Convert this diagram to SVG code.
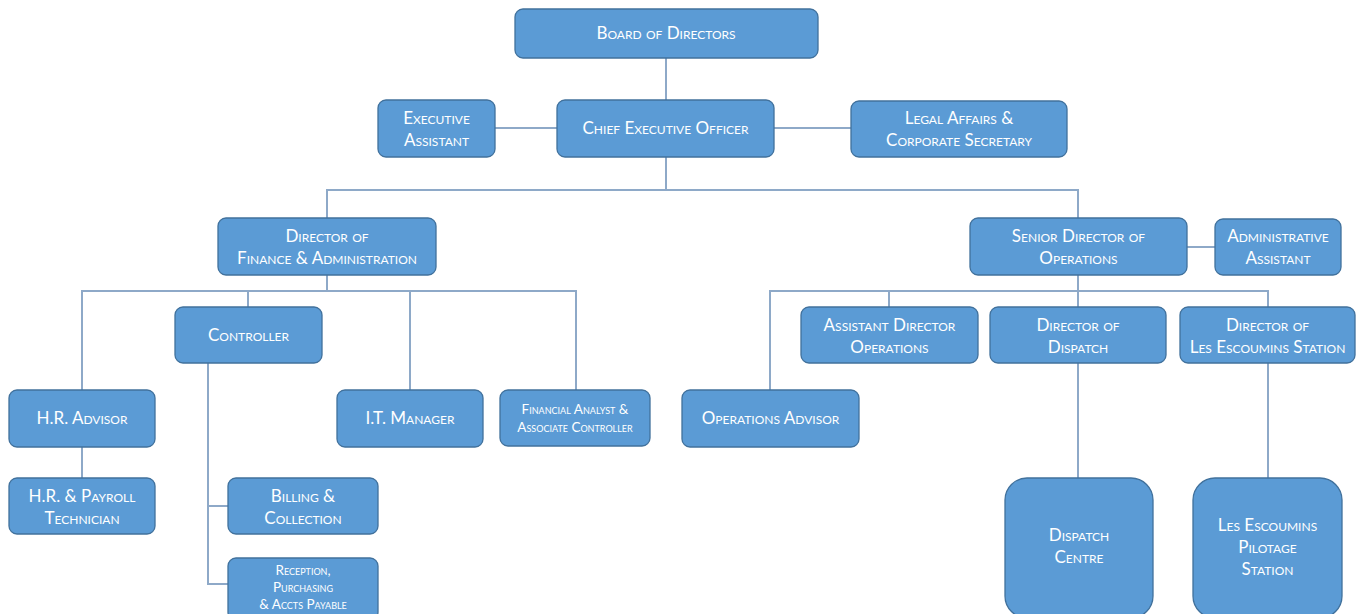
<svg xmlns="http://www.w3.org/2000/svg" width="1359" height="614" viewBox="0 0 1359 614">
<style>
.box{fill:#5B9BD5;stroke:#41719C;stroke-width:1.3}
.t{font-family:Lato,"Open Sans","Liberation Sans",sans-serif;font-size:17px;fill:#ffffff;text-anchor:middle;font-variant:small-caps}
.s{font-size:13.5px}
.c{fill:none;stroke:#8EA9C8;stroke-width:2}
</style>
<rect width="1359" height="614" fill="#ffffff"/>
<g id="connectors">
<path class="c" d="M666 58V100"/>
<path class="c" d="M495 128H557M774 128H851"/>
<path class="c" d="M666 157V190M327 218V190H1078V218"/>
<path class="c" d="M1187 247H1215"/>
<path class="c" d="M327 275V291M82 390V291H576V390M248 291V307M410 291V390"/>
<path class="c" d="M82 447V478"/>
<path class="c" d="M208 363V584H228M208 506H229"/>
<path class="c" d="M1078 275V291M770 390V291H1268V307M889 291V307M1078 291V307"/>
<path class="c" d="M1078 363V478M1268 363V478"/>
</g>
<g id="board"><rect class="box" x="515" y="9" width="303" height="49" rx="8"/><text class="t" x="666" y="39">Board of Directors</text></g>
<g id="exec-assistant"><rect class="box" x="378" y="100" width="117" height="57" rx="8"/><text class="t" x="436.5" y="124">Executive</text><text class="t" x="436.5" y="146">Assistant</text></g>
<g id="ceo"><rect class="box" x="557" y="100" width="217" height="57" rx="8"/><text class="t" x="665.5" y="134">Chief Executive Officer</text></g>
<g id="legal"><rect class="box" x="851" y="101" width="216" height="56" rx="8"/><text class="t" x="959" y="124">Legal Affairs &amp;</text><text class="t" x="959" y="146">Corporate Secretary</text></g>
<g id="dfa"><rect class="box" x="218" y="218" width="218" height="57" rx="8"/><text class="t" x="327" y="242">Director of</text><text class="t" x="327" y="264">Finance &amp; Administration</text></g>
<g id="sdo"><rect class="box" x="970" y="218" width="217" height="57" rx="8"/><text class="t" x="1078.5" y="242">Senior Director of</text><text class="t" x="1078.5" y="264">Operations</text></g>
<g id="admin-assistant"><rect class="box" x="1215" y="219" width="126" height="56" rx="8"/><text class="t" x="1278" y="242">Administrative</text><text class="t" x="1278" y="264">Assistant</text></g>
<g id="controller"><rect class="box" x="175" y="307" width="147" height="56" rx="8"/><text class="t" x="248.5" y="341">Controller</text></g>
<g id="hr-advisor"><rect class="box" x="9" y="390" width="146" height="57" rx="8"/><text class="t" x="82" y="424">H.R. Advisor</text></g>
<g id="it-manager"><rect class="box" x="337" y="390" width="146" height="57" rx="8"/><text class="t" x="410" y="424">I.T. Manager</text></g>
<g id="financial-analyst"><rect class="box" x="500" y="390" width="150" height="56" rx="8"/><text class="t s" x="575" y="414">Financial Analyst &amp;</text><text class="t s" x="575" y="432">Associate Controller</text></g>
<g id="hr-payroll"><rect class="box" x="9" y="478" width="146" height="56" rx="8"/><text class="t" x="82" y="502">H.R. &amp; Payroll</text><text class="t" x="82" y="524">Technician</text></g>
<g id="billing"><rect class="box" x="228" y="478" width="150" height="56" rx="8"/><text class="t" x="303" y="502">Billing &amp;</text><text class="t" x="303" y="524">Collection</text></g>
<g id="reception"><rect class="box" x="228" y="558" width="150" height="62" rx="8"/><text class="t s" x="303" y="575">Reception,</text><text class="t s" x="303" y="592">Purchasing</text><text class="t s" x="303" y="609">&amp; Accts Payable</text></g>
<g id="asst-director"><rect class="box" x="801" y="307" width="177" height="56" rx="8"/><text class="t" x="889.5" y="331">Assistant Director</text><text class="t" x="889.5" y="353">Operations</text></g>
<g id="dir-dispatch"><rect class="box" x="990" y="307" width="176" height="56" rx="8"/><text class="t" x="1078" y="331">Director of</text><text class="t" x="1078" y="353">Dispatch</text></g>
<g id="dir-les"><rect class="box" x="1180" y="307" width="175" height="56" rx="8"/><text class="t" x="1267.5" y="331">Director of</text><text class="t" x="1267.5" y="353">Les Escoumins Station</text></g>
<g id="ops-advisor"><rect class="box" x="682" y="390" width="177" height="57" rx="8"/><text class="t" x="770.5" y="424">Operations Advisor</text></g>
<g id="dispatch-centre"><rect class="box" x="1005" y="478" width="148" height="140" rx="22"/><text class="t" x="1079" y="541">Dispatch</text><text class="t" x="1079" y="563">Centre</text></g>
<g id="les-station"><rect class="box" x="1193" y="478" width="149" height="140" rx="22"/><text class="t" x="1267.5" y="531">Les Escoumins</text><text class="t" x="1267.5" y="553">Pilotage</text><text class="t" x="1267.5" y="575">Station</text></g>
</svg>
